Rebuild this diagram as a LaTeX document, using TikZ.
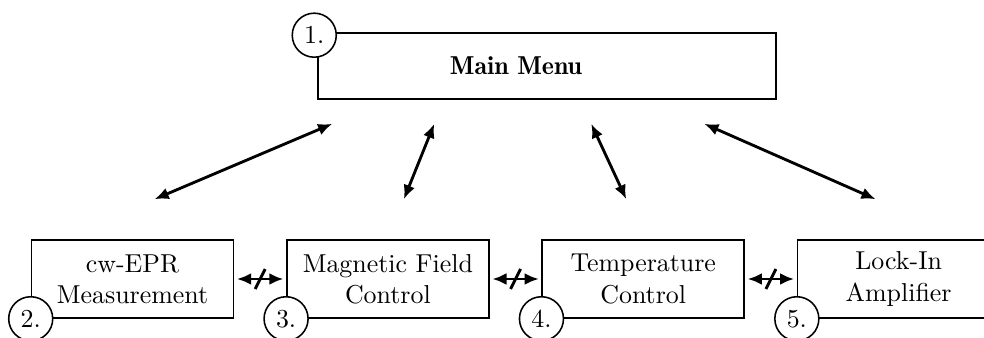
\documentclass[tikz,border=0pt]{standalone}
\usetikzlibrary{calc, positioning}
\usetikzlibrary{arrows.meta}

\begin{document}
\begin{tikzpicture}[x=0.3861pt, y=-0.3861pt,
  menubox/.style={draw, semithick, minimum width=176.8pt, minimum height=25.5pt},
  subbox/.style={draw, semithick, minimum width=78pt, minimum height=30.1pt, align=center},
  numcirc/.style={draw, semithick, circle, fill=white, minimum size=17pt, inner sep=0pt},
  link/.style={{Latex[length=5.5pt,width=4.6pt]}-{Latex[length=5.5pt,width=4.6pt]}, line width=1.1pt},
  nolink/.style={link, shorten <=1pt, shorten >=1pt}]
\useasboundingbox (0,0) rectangle (984,338);
\clip (0,0) rectangle (984,338);

\node[menubox] (main) at (547,66) {};
\node[font=\fontseries{b}\selectfont] (title) at ($(main.center)+(-31,0)$) {Main Menu};
\node[subbox] (cw) at (132.5,279) {cw-EPR\\Measurement};
\node[subbox, right=20pt of cw] (mag) {Magnetic Field\\Control};
\node[subbox, right=20pt of mag] (temp) {Temperature\\Control};
\node[subbox, right=20pt of temp] (lock) {Lock-In\\Amplifier};

\node[numcirc] (n1) at ($(main.north west)+(-3,3)$) {1.};
\node[numcirc] (n2) at (cw.south west) {2.};
\node[numcirc] (n3) at (mag.south west) {3.};
\node[numcirc] (n4) at (temp.south west) {4.};
\node[numcirc] (n5) at (lock.south west) {5.};

% ends of the links to the menu
\coordinate (t1) at ($(main.south west)+(15,24)$);
\coordinate (t2) at ($(main.south west)+(117,24)$);
\coordinate (t3) at ($(main.south west)+(274,24)$);
\coordinate (t4) at ($(main.south west)+(387,24)$);
\coordinate (b1) at ($(cw.north)+(22,-40)$);
\coordinate (b2) at ($(mag.north)+(16,-40)$);
\coordinate (b3) at ($(temp.north)+(-17,-40)$);
\coordinate (b4) at ($(lock.north)+(-23,-40)$);

\draw[link] (b1) -- (t1);
\draw[link] (b2) -- (t2);
\draw[link] (t3) -- (b3);
\draw[link] (t4) -- (b4);

% no direct links between the modules
\draw[nolink] (cw.east) -- (mag.west) coordinate[midway] (s1);
\draw[nolink] (mag.east) -- (temp.west) coordinate[midway] (s2);
\draw[nolink] (temp.east) -- (lock.west) coordinate[midway] (s3);
\foreach \s in {s1,s2,s3}
  \draw[line width=1.1pt] ($(\s)+(-5,10)$) -- ($(\s)+(5,-10)$);
\end{tikzpicture}
\end{document}
